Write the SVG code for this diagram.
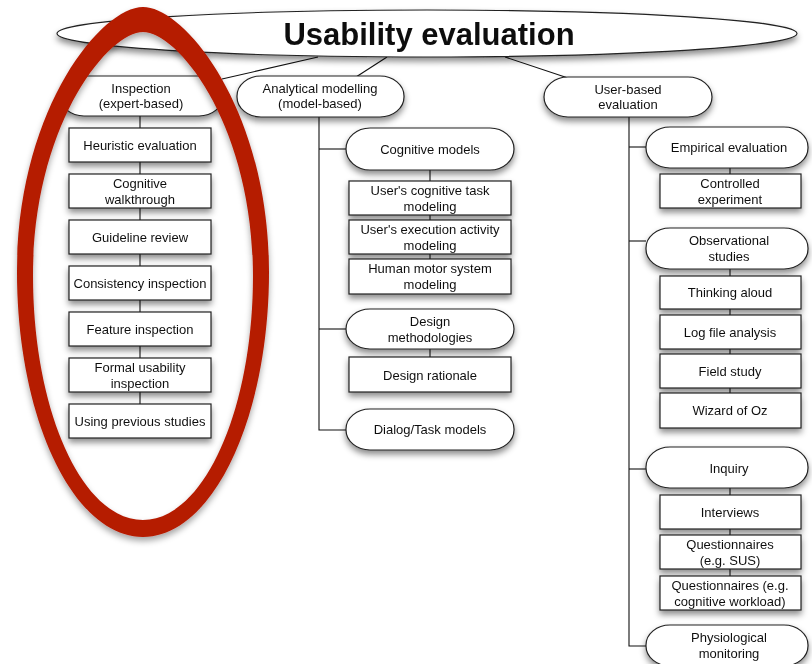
<svg xmlns="http://www.w3.org/2000/svg" width="812" height="664" viewBox="0 0 812 664">
<defs>
<filter id="sh" x="-20%" y="-30%" width="140%" height="170%">
<feDropShadow dx="0" dy="4" stdDeviation="3" flood-color="#000" flood-opacity="0.45"/>
</filter>
<filter id="shr" x="-20%" y="-10%" width="140%" height="120%">
<feDropShadow dx="0" dy="4" stdDeviation="3" flood-color="#000" flood-opacity="0.35"/>
</filter>
</defs>
<style>
.n rect, .n ellipse { fill: #fff; stroke: #222; stroke-width: 1.2; }
.n { filter: url(#sh); }
text { font-family: "Liberation Sans", Arial, sans-serif; font-size: 13px; fill: #111; text-anchor: middle; }
.t { font-size: 31px; font-weight: bold; }
#connectors line, #connectors polyline { stroke: #111; stroke-width: 1.1; fill: none; }
</style>
<rect width="812" height="664" fill="#fff"/>
<g id="connectors">
<line x1="318" y1="57" x2="222" y2="79"/>
<line x1="387" y1="57" x2="356" y2="77"/>
<line x1="505" y1="57" x2="568" y2="78"/>
<line x1="140" y1="116" x2="140" y2="404"/>
<polyline points="319,117 319,430 346,430"/>
<line x1="319" y1="149" x2="346" y2="149"/>
<line x1="319" y1="329" x2="346" y2="329"/>
<line x1="430" y1="170" x2="430" y2="259"/>
<line x1="430" y1="349" x2="430" y2="357"/>
<polyline points="629,117 629,646 646,646"/>
<line x1="629" y1="147" x2="646" y2="147"/>
<line x1="629" y1="241" x2="646" y2="241"/>
<line x1="629" y1="469" x2="646" y2="469"/>
<line x1="730" y1="168" x2="730" y2="174"/>
<line x1="730" y1="269" x2="730" y2="393"/>
<line x1="730" y1="488" x2="730" y2="576"/>
</g>
<g id="root" class="n"><ellipse cx="427" cy="33.5" rx="370" ry="23.5"/><text class="t" x="429" y="45">Usability evaluation</text></g>
<g id="inspection" class="n"><rect x="60" y="76" width="163" height="40" rx="24" ry="20"/><text x="141" y="93">Inspection</text><text x="141" y="108">(expert-based)</text></g>
<g id="analytical" class="n"><rect x="237" y="76" width="167" height="41" rx="24" ry="20"/><text x="320" y="93">Analytical modelling</text><text x="320" y="108">(model-based)</text></g>
<g id="userbased" class="n"><rect x="544" y="77" width="168" height="40" rx="24" ry="20"/><text x="628" y="94">User-based</text><text x="628" y="109">evaluation</text></g>

<g id="heuristic" class="n"><rect x="69" y="128" width="142" height="34"/><text x="140" y="150">Heuristic evaluation</text></g>
<g id="cogwalk" class="n"><rect x="69" y="174" width="142" height="34"/><text x="140" y="188">Cognitive</text><text x="140" y="204">walkthrough</text></g>
<g id="guideline" class="n"><rect x="69" y="220" width="142" height="34"/><text x="140" y="242">Guideline review</text></g>
<g id="consistency" class="n"><rect x="69" y="266" width="142" height="34"/><text x="140" y="288">Consistency inspection</text></g>
<g id="feature" class="n"><rect x="69" y="312" width="142" height="34"/><text x="140" y="334">Feature inspection</text></g>
<g id="formal" class="n"><rect x="69" y="358" width="142" height="34"/><text x="140" y="372">Formal usability</text><text x="140" y="388">inspection</text></g>
<g id="previous" class="n"><rect x="69" y="404" width="142" height="34"/><text x="140" y="426">Using previous studies</text></g>

<g id="cogmodels" class="n"><rect x="346" y="128" width="168" height="42" rx="24" ry="21"/><text x="430" y="154">Cognitive models</text></g>
<g id="cogtask" class="n"><rect x="349" y="181" width="162" height="34"/><text x="430" y="195">User's cognitive task</text><text x="430" y="211">modeling</text></g>
<g id="execution" class="n"><rect x="349" y="220" width="162" height="34"/><text x="430" y="234">User's execution activity</text><text x="430" y="250">modeling</text></g>
<g id="motor" class="n"><rect x="349" y="259" width="162" height="35"/><text x="430" y="273">Human motor system</text><text x="430" y="289">modeling</text></g>
<g id="designmeth" class="n"><rect x="346" y="309" width="168" height="40" rx="24" ry="20"/><text x="430" y="326">Design</text><text x="430" y="342">methodologies</text></g>
<g id="rationale" class="n"><rect x="349" y="357" width="162" height="35"/><text x="430" y="380">Design rationale</text></g>
<g id="dialog" class="n"><rect x="346" y="409" width="168" height="41" rx="24" ry="20"/><text x="430" y="434">Dialog/Task models</text></g>

<g id="empirical" class="n"><rect x="646" y="127" width="162" height="41" rx="24" ry="20"/><text x="729" y="152">Empirical evaluation</text></g>
<g id="controlled" class="n"><rect x="660" y="174" width="141" height="34"/><text x="730" y="188">Controlled</text><text x="730" y="204">experiment</text></g>
<g id="observational" class="n"><rect x="646" y="228" width="162" height="41" rx="24" ry="20"/><text x="729" y="245">Observational</text><text x="729" y="261">studies</text></g>
<g id="thinking" class="n"><rect x="660" y="276" width="141" height="33"/><text x="730" y="297">Thinking aloud</text></g>
<g id="logfile" class="n"><rect x="660" y="315" width="141" height="34"/><text x="730" y="337">Log file analysis</text></g>
<g id="field" class="n"><rect x="660" y="354" width="141" height="34"/><text x="730" y="376">Field study</text></g>
<g id="wizard" class="n"><rect x="660" y="393" width="141" height="35"/><text x="730" y="415">Wizard of Oz</text></g>
<g id="inquiry" class="n"><rect x="646" y="447" width="162" height="41" rx="24" ry="20"/><text x="729" y="473">Inquiry</text></g>
<g id="interviews" class="n"><rect x="660" y="495" width="141" height="34"/><text x="730" y="517">Interviews</text></g>
<g id="sus" class="n"><rect x="660" y="535" width="141" height="34"/><text x="730" y="549">Questionnaires</text><text x="730" y="565">(e.g. SUS)</text></g>
<g id="workload" class="n"><rect x="660" y="576" width="141" height="34"/><text x="730" y="590">Questionnaires (e.g.</text><text x="730" y="606">cognitive workload)</text></g>
<g id="physio" class="n"><rect x="646" y="625" width="162" height="41" rx="24" ry="20"/><text x="729" y="642">Physiological</text><text x="729" y="658">monitoring</text></g>

<g id="highlight" filter="url(#shr)">
<path fill="#B51A00" fill-rule="evenodd" d="M143,7 C185,7 269,110 269,272 C269,418 212.6,537 143,537 C73.4,537 17,418 17,272 C17,110 101,7 143,7 Z M143,32 C178,32 253,125 253,276 C253,410.7 203.7,520 143,520 C82.3,520 33,410.7 33,276 C33,125 108,32 143,32 Z"/>
</g>
</svg>
